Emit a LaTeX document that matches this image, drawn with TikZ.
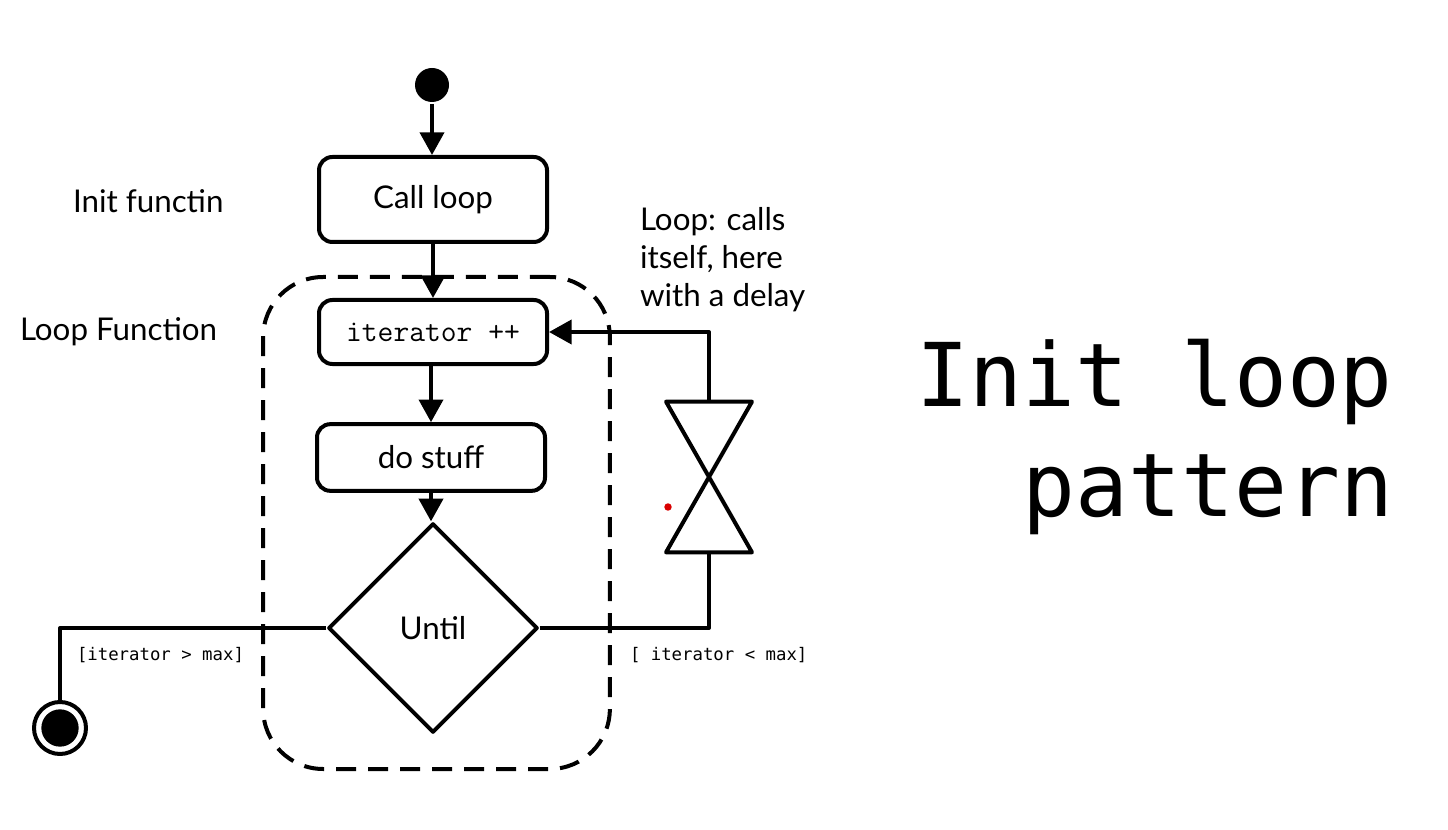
\documentclass[tikz,border=0pt]{standalone}
\usepackage{fontspec}
\setmainfont{Lato}
\newfontfamily\guardfont{DejaVu Sans Mono}
\usetikzlibrary{arrows.meta,shapes.geometric}

\begin{document}
\begin{tikzpicture}[>={Triangle[length=17pt,width=18pt]}, x=0.75pt, y=-0.75pt,
    line width=3pt, line join=round,
    action/.style={draw, rounded corners=10pt, minimum width=171pt, inner sep=0pt,
      font=\fontsize{23.5}{28}\selectfont},
    decision/.style={draw, diamond, aspect=1, minimum width=157pt, minimum height=157pt,
      inner sep=0pt, font=\fontsize{23.5}{28}\selectfont},
    guard/.style={anchor=west, inner sep=0pt, font=\guardfont\fontsize{13}{15}\selectfont},
    side/.style={anchor=west, inner sep=0pt, font=\fontsize{23.5}{28}\selectfont}]
  \useasboundingbox (0,0) rectangle (1448,830);

  % loop function frame
  \node[draw, dash pattern=on 15pt off 9pt, rounded corners=45pt,
    minimum width=260pt, minimum height=369pt] (frame) at (436.5,523) {};

  % states and actions
  \node[circle, fill, minimum size=25.5pt, inner sep=0pt] (start) at (432,85) {};
  \node[action, minimum height=63.75pt] (call) at (433,199.5) {Call loop};
  \node[action, minimum height=48pt, font=\ttfamily\fontsize{23}{26}\selectfont]
    (iter) at (433,332) {iterator ++};
  \node[action, minimum height=50pt] (stuff) at (431,457.5) {do stuff};
  \node[decision] (until) at (433,628) {Until};
  \node[circle, draw, minimum size=39pt, inner sep=0pt] (stop) at (60,728) {};
  \fill (stop.center) circle (14pt);

  % delay (hourglass)
  \node[minimum width=61.5pt, minimum height=110pt, inner sep=0pt] (delay) at (709,477) {};
  \draw (delay.north west) -- (delay.north east) -- (delay.south west)
    -- (delay.south east) -- cycle;
  \fill[red!85!black] (668,507) circle (2.8pt);

  % flow
  \draw[->] (start) -- (start |- call.north);
  \draw[->] (call) -- (iter);
  \draw[->] (stuff |- iter.south) -- (stuff);
  \draw[->] (stuff) -- (stuff |- until.north);
  \draw (until.west) -| (stop);
  \draw (until.east) -| (delay.south);
  \draw[->] (delay.north) |- (iter.east);

  % labels
  \node[guard] at (75,655) {[iterator > max]};
  \node[guard] at (628,655) {[ iterator < max]};
  \node[side] at (71,201) {Init functin};
  \node[side] at (18,332) {Loop Function};
  \node[anchor=north west, inner sep=0pt, align=left,
    font=\fontsize{23.5}{28.5}\selectfont] at (638,205)
    {Loop: calls\\itself, here\\with a delay};
  \node[anchor=north east, inner sep=0pt, align=right,
    font=\guardfont\fontsize{66}{82.5}\selectfont] at (1395,337)
    {Init loop\\pattern};
\end{tikzpicture}
\end{document}
